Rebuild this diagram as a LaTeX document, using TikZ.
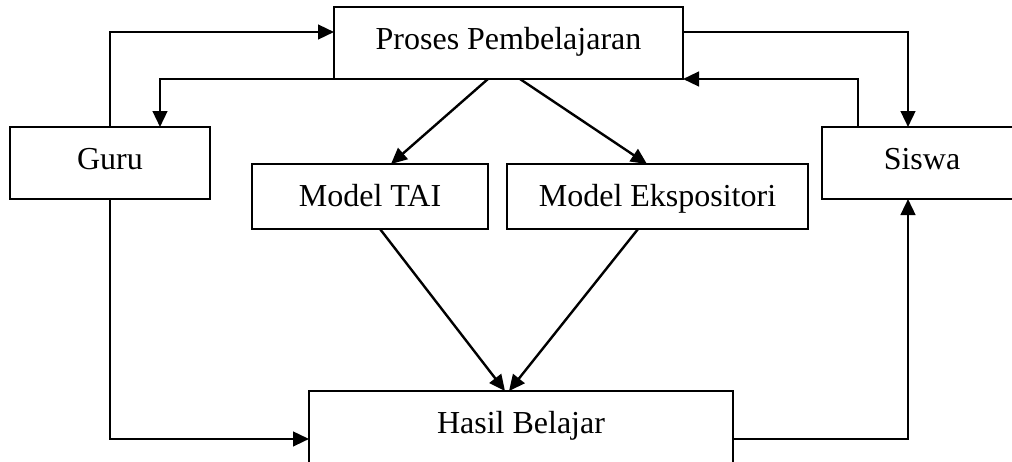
\documentclass[tikz,border=0pt]{standalone}
\usepackage{fontspec}
\setmainfont{Liberation Serif}
\usetikzlibrary{arrows.meta}

\begin{document}
\begin{tikzpicture}[x=0.75pt,y=-0.75pt,
    box/.style={draw,line width=1.8pt,minimum height=54pt,inner sep=0pt,outer sep=0pt,
      text height=16pt,text depth=7pt,font=\fontsize{24}{28}\selectfont},
    modelbox/.style={box,minimum height=48.75pt,text height=19pt,text depth=4pt},
    link/.style={line width=1.8pt,-{Triangle[length=12pt,width=11pt]}}]
    \useasboundingbox (0,0) rectangle (1012,461);
    \node[box,minimum width=261.75pt] (proses) at (508.5,43) {Proses Pembelajaran};
    \node[box,minimum width=150pt] (guru) at (110,163) {Guru};
    \node[box,minimum width=150pt] (siswa) at (922,163) {Siswa};
    \node[modelbox,minimum width=177pt] (tai) at (370,196.5) {Model TAI};
    \node[modelbox,minimum width=225.75pt] (eksp) at (657.5,196.5) {Model Ekspositori};
    \node[box,minimum width=318pt,minimum height=54.75pt] (hasil) at (521,427.5) {Hasil Belajar};
    % guru <-> proses <-> siswa
    \draw[link] (guru.north) |- ([yshift=8.25pt]proses.west);
    \draw[link] (proses.south west) -| ([xshift=37.5pt]guru.north);
    \draw[link] ([yshift=8.25pt]proses.east) -| ([xshift=-10.5pt]siswa.north);
    \draw[link] ([xshift=-48pt]siswa.north) |- (proses.south east);
    % proses -> model -> hasil
    \draw[link] ([xshift=-15.4pt]proses.south) -- ([xshift=15.75pt]tai.north);
    \draw[link] ([xshift=8.6pt]proses.south) -- ([xshift=-7.9pt]eksp.north);
    \draw[link] ([xshift=7.5pt]tai.south) -- ([xshift=-12pt]hasil.north);
    \draw[link] ([xshift=-14.6pt]eksp.south) -- ([xshift=-9pt]hasil.north);
    % guru -> hasil -> siswa
    \draw[link] (guru.south) |- ([yshift=-8.6pt]hasil.west);
    \draw[link] ([yshift=-8.6pt]hasil.east) -| ([xshift=-10.5pt]siswa.south);
  \end{tikzpicture}
\end{document}
